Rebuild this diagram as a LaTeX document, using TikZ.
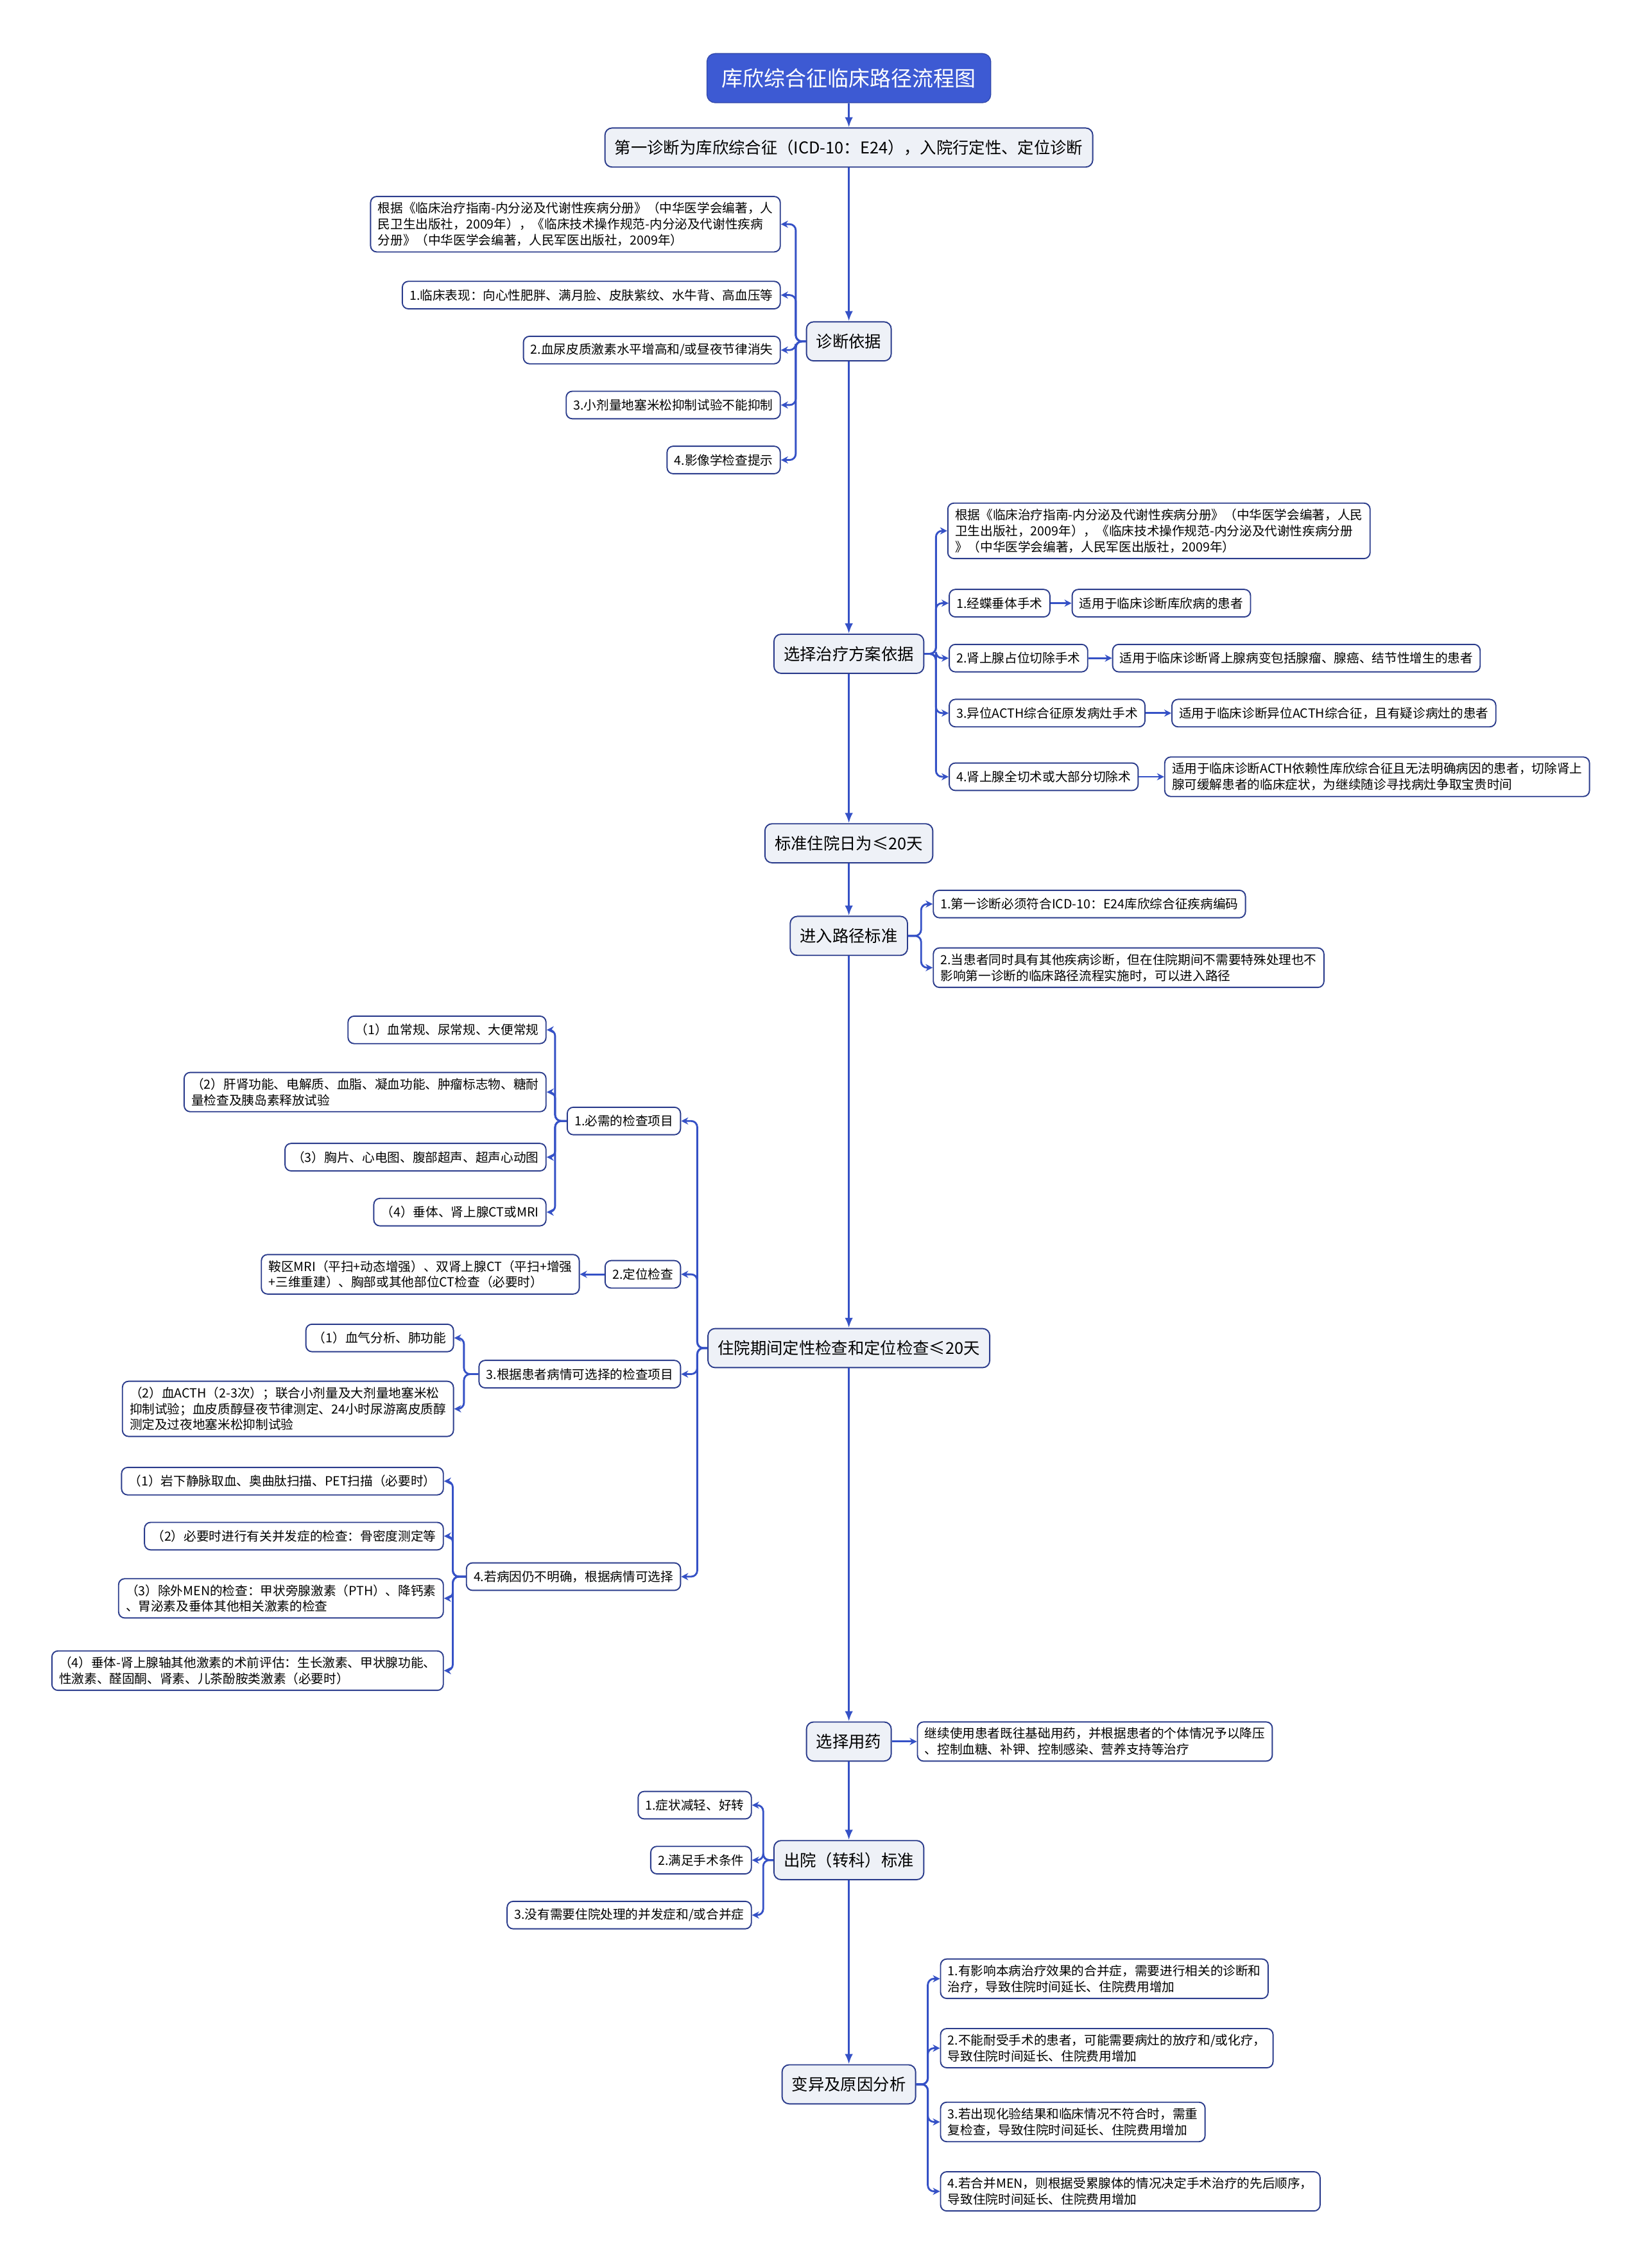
\documentclass[tikz,border=0pt]{standalone}
\usepackage{fontspec}
\setmainfont{Noto Sans CJK SC}
\usetikzlibrary{arrows.meta}
\definecolor{pathblue}{HTML}{3551C6}
\definecolor{navy}{HTML}{2B3C8C}
\definecolor{headblue}{HTML}{3D5AD3}
\definecolor{stagefill}{HTML}{EEF1F7}

\begin{document}
\begin{tikzpicture}[x=0.025cm, y=-0.025cm,
    head/.style={rectangle, rounded corners=4pt, draw=headblue!80!black, fill=headblue,
      text=white, font=\fontsize{10.4}{12}\selectfont, minimum height=0.85cm, inner xsep=0.26cm},
    stage/.style={rectangle, rounded corners=3.5pt, draw=navy, line width=0.6pt, fill=stagefill,
      font=\fontsize{8}{10}\selectfont, minimum height=0.675cm, inner xsep=0.17cm},
    leaf/.style={rectangle, rounded corners=3pt, draw=navy, line width=0.6pt, fill=white,
      font=\fontsize{6.2}{7.8}\selectfont, minimum height=0.475cm, inner xsep=0.125cm,
      inner ysep=0.1cm, align=left},
    flow/.style={-{Latex[length=5pt,width=4pt]}, pathblue, line width=1pt},
    link/.style={-{Stealth[length=3.5pt,width=3.5pt]}, pathblue, line width=0.9pt, rounded corners=3pt},
  ]
    \fill[white] (0,0) rectangle (1136,1568);
    \useasboundingbox (0,0) rectangle (1136,1568);

    \node[head] (top) at (587,54) {库欣综合征临床路径流程图};
    \node[stage] (first) at (587,102) {第一诊断为库欣综合征（ICD-10：E24），入院行定性、定位诊断};

    % diagnosis
    \node[stage] (diag) at (587,236) {诊断依据};
    \node[leaf, anchor=east] (diag0) at (540,155) {根据《临床治疗指南-内分泌及代谢性疾病分册》（中华医学会编著，人\\民卫生出版社，2009年），《临床技术操作规范-内分泌及代谢性疾病\\分册》（中华医学会编著，人民军医出版社，2009年）};
    \node[leaf, anchor=east] (diag1) at (540,204) {1.临床表现：向心性肥胖、满月脸、皮肤紫纹、水牛背、高血压等};
    \node[leaf, anchor=east] (diag2) at (540,242) {2.血尿皮质激素水平增高和/或昼夜节律消失};
    \node[leaf, anchor=east] (diag3) at (540,280) {3.小剂量地塞米松抑制试验不能抑制};
    \node[leaf, anchor=east] (diag4) at (540,318) {4.影像学检查提示};

    % treatment
    \node[stage] (plan) at (587,452) {选择治疗方案依据};
    \node[leaf, anchor=west] (plan0) at (655,367) {根据《临床治疗指南-内分泌及代谢性疾病分册》（中华医学会编著，人民\\卫生出版社，2009年），《临床技术操作规范-内分泌及代谢性疾病分册\\》（中华医学会编著，人民军医出版社，2009年）};
    \node[leaf, anchor=west] (plan1) at (656,417) {1.经蝶垂体手术};
    \node[leaf, anchor=west] (use1) at (741,417) {适用于临床诊断库欣病的患者};
    \node[leaf, anchor=west] (plan2) at (656,455) {2.肾上腺占位切除手术};
    \node[leaf, anchor=west] (use2) at (769,455) {适用于临床诊断肾上腺病变包括腺瘤、腺癌、结节性增生的患者};
    \node[leaf, anchor=west] (plan3) at (656,493) {3.异位ACTH综合征原发病灶手术};
    \node[leaf, anchor=west] (use3) at (810,493) {适用于临床诊断异位ACTH综合征，且有疑诊病灶的患者};
    \node[leaf, anchor=west] (plan4) at (656,537) {4.肾上腺全切术或大部分切除术};
    \node[leaf, anchor=west] (use4) at (805,537) {适用于临床诊断ACTH依赖性库欣综合征且无法明确病因的患者，切除肾上\\腺可缓解患者的临床症状，为继续随诊寻找病灶争取宝贵时间};

    \node[stage] (stay) at (587,583) {标准住院日为≤20天};

    % entry
    \node[stage] (entry) at (587,647) {进入路径标准};
    \node[leaf, anchor=west] (entry1) at (645,625) {1.第一诊断必须符合ICD-10：E24库欣综合征疾病编码};
    \node[leaf, anchor=west] (entry2) at (645,669) {2.当患者同时具有其他疾病诊断，但在住院期间不需要特殊处理也不\\影响第一诊断的临床路径流程实施时，可以进入路径};

    % examinations
    \node[stage] (exam) at (587,932) {住院期间定性检查和定位检查≤20天};
    \node[leaf, anchor=east] (chk1) at (471,775) {1.必需的检查项目};
    \node[leaf, anchor=east] (chk11) at (378,712) {（1）血常规、尿常规、大便常规};
    \node[leaf, anchor=east] (chk12) at (378,755) {（2）肝肾功能、电解质、血脂、凝血功能、肿瘤标志物、糖耐\\量检查及胰岛素释放试验};
    \node[leaf, anchor=east] (chk13) at (378,800) {（3）胸片、心电图、腹部超声、超声心动图};
    \node[leaf, anchor=east] (chk14) at (378,838) {（4）垂体、肾上腺CT或MRI};
    \node[leaf, anchor=east] (chk2) at (471,881) {2.定位检查};
    \node[leaf, anchor=east] (chk21) at (401,881) {鞍区MRI（平扫+动态增强）、双肾上腺CT（平扫+增强\\+三维重建）、胸部或其他部位CT检查（必要时）};
    \node[leaf, anchor=east] (chk3) at (471,950) {3.根据患者病情可选择的检查项目};
    \node[leaf, anchor=east] (chk31) at (314,925) {（1）血气分析、肺功能};
    \node[leaf, anchor=east] (chk32) at (314,974) {（2）血ACTH（2-3次）；联合小剂量及大剂量地塞米松\\抑制试验；血皮质醇昼夜节律测定、24小时尿游离皮质醇\\测定及过夜地塞米松抑制试验};
    \node[leaf, anchor=east] (chk4) at (471,1090) {4.若病因仍不明确，根据病情可选择};
    \node[leaf, anchor=east] (chk41) at (307,1024) {（1）岩下静脉取血、奥曲肽扫描、PET扫描（必要时）};
    \node[leaf, anchor=east] (chk42) at (307,1062) {（2）必要时进行有关并发症的检查：骨密度测定等};
    \node[leaf, anchor=east] (chk43) at (307,1105) {（3）除外MEN的检查：甲状旁腺激素（PTH）、降钙素\\、胃泌素及垂体其他相关激素的检查};
    \node[leaf, anchor=east] (chk44) at (307,1155) {（4）垂体-肾上腺轴其他激素的术前评估：生长激素、甲状腺功能、\\性激素、醛固酮、肾素、儿茶酚胺类激素（必要时）};

    % drugs and discharge
    \node[stage] (drug) at (587,1204) {选择用药};
    \node[leaf, anchor=west] (drug1) at (634,1204) {继续使用患者既往基础用药，并根据患者的个体情况予以降压\\、控制血糖、补钾、控制感染、营养支持等治疗};
    \node[stage] (leave) at (587,1286) {出院（转科）标准};
    \node[leaf, anchor=east] (leave1) at (520,1248) {1.症状减轻、好转};
    \node[leaf, anchor=east] (leave2) at (520,1286) {2.满足手术条件};
    \node[leaf, anchor=east] (leave3) at (520,1324) {3.没有需要住院处理的并发症和/或合并症};

    % variance
    \node[stage] (vary) at (587,1441) {变异及原因分析};
    \node[leaf, anchor=west] (vary1) at (650,1368) {1.有影响本病治疗效果的合并症，需要进行相关的诊断和\\治疗，导致住院时间延长、住院费用增加};
    \node[leaf, anchor=west] (vary2) at (650,1416) {2.不能耐受手术的患者，可能需要病灶的放疗和/或化疗，\\导致住院时间延长、住院费用增加};
    \node[leaf, anchor=west] (vary3) at (650,1467) {3.若出现化验结果和临床情况不符合时，需重\\复检查，导致住院时间延长、住院费用增加};
    \node[leaf, anchor=west] (vary4) at (650,1515) {4.若合并MEN，则根据受累腺体的情况决定手术治疗的先后顺序，\\导致住院时间延长、住院费用增加};

    % main spine
    \draw[flow] (top) -- (first);
    \draw[flow] (first) -- (diag);
    \draw[flow] (diag) -- (plan);
    \draw[flow] (plan) -- (stay);
    \draw[flow] (stay) -- (entry);
    \draw[flow] (entry) -- (exam);
    \draw[flow] (exam) -- (drug);
    \draw[flow] (drug) -- (leave);
    \draw[flow] (leave) -- (vary);

    % branches
    \draw[link] (diag.west) -- ++(-7,0) |- (diag0.east);
    \draw[link] (diag.west) -- ++(-7,0) |- (diag1.east);
    \draw[link] (diag.west) -- ++(-7,0) |- (diag2.east);
    \draw[link] (diag.west) -- ++(-7,0) |- (diag3.east);
    \draw[link] (diag.west) -- ++(-7,0) |- (diag4.east);

    \draw[link] (plan.east) -- ++(8,0) |- (plan0.west);
    \draw[link] (plan.east) -- ++(8,0) |- (plan1.west);
    \draw[link] (plan.east) -- ++(8,0) |- (plan2.west);
    \draw[link] (plan.east) -- ++(8,0) |- (plan3.west);
    \draw[link] (plan.east) -- ++(8,0) |- (plan4.west);
    \draw[link] (plan1) -- (use1);
    \draw[link] (plan2) -- (use2);
    \draw[link] (plan3) -- (use3);
    \draw[link] (plan4) -- (use4);

    \draw[link] (entry.east) -- ++(9,0) |- (entry1.west);
    \draw[link] (entry.east) -- ++(9,0) |- (entry2.west);

    \draw[link] (exam.west) -- ++(-7,0) |- (chk1.east);
    \draw[link] (exam.west) -- ++(-7,0) |- (chk2.east);
    \draw[link] (exam.west) -- ++(-7,0) |- (chk3.east);
    \draw[link] (exam.west) -- ++(-7,0) |- (chk4.east);
    \draw[link] (chk1.west) -- ++(-8,0) |- (chk11.east);
    \draw[link] (chk1.west) -- ++(-8,0) |- (chk12.east);
    \draw[link] (chk1.west) -- ++(-8,0) |- (chk13.east);
    \draw[link] (chk1.west) -- ++(-8,0) |- (chk14.east);
    \draw[link] (chk2) -- (chk21);
    \draw[link] (chk3.west) -- ++(-10,0) |- (chk31.east);
    \draw[link] (chk3.west) -- ++(-10,0) |- (chk32.east);
    \draw[link] (chk4.west) -- ++(-9,0) |- (chk41.east);
    \draw[link] (chk4.west) -- ++(-9,0) |- (chk42.east);
    \draw[link] (chk4.west) -- ++(-9,0) |- (chk43.east);
    \draw[link] (chk4.west) -- ++(-9,0) |- (chk44.east);

    \draw[link] (drug) -- (drug1);
    \draw[link] (leave.west) -- ++(-7,0) |- (leave1.east);
    \draw[link] (leave.west) -- ++(-7,0) |- (leave2.east);
    \draw[link] (leave.west) -- ++(-7,0) |- (leave3.east);

    \draw[link] (vary.east) -- ++(8,0) |- (vary1.west);
    \draw[link] (vary.east) -- ++(8,0) |- (vary2.west);
    \draw[link] (vary.east) -- ++(8,0) |- (vary3.west);
    \draw[link] (vary.east) -- ++(8,0) |- (vary4.west);
  \end{tikzpicture}
\end{document}
